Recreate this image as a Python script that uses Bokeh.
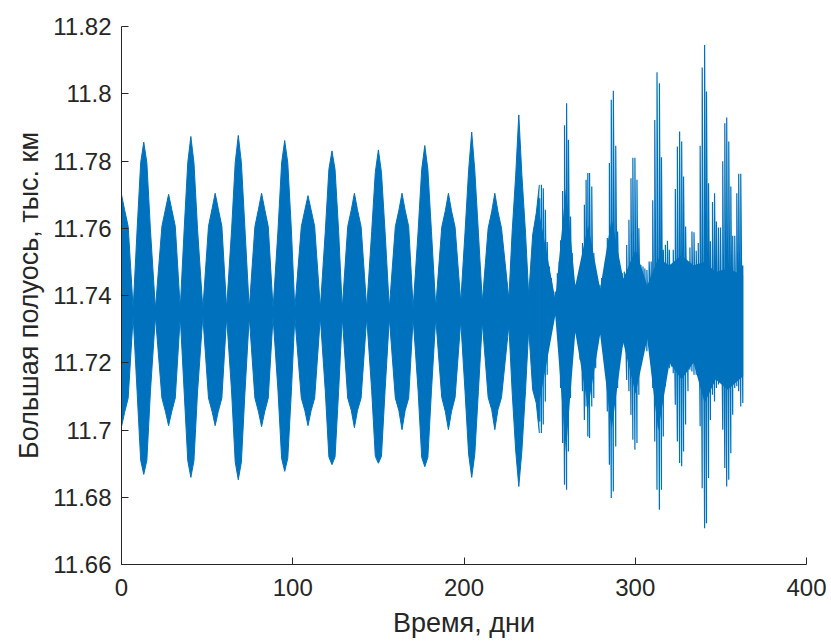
from bokeh.plotting import figure
from bokeh.models import FixedTicker, ColumnDataSource
from bokeh.embed import file_html
from bokeh.resources import INLINE

# ---- data (time in days, semi-major axis in thousand km) ----
# Dense part (0..244 days): beat lobes of the fast oscillation
lobe_t = [0.0, 13.0, 27.5, 40.5, 54.7, 68.2, 81.8, 95.3, 108.9, 122.9, 136.0,
          150.0, 163.8, 177.1, 190.9, 204.5, 218.0, 232.0, 244.0]
# extreme spikes of each lobe
tip_hi = [11.7700, 11.7856, 11.7701, 11.7873, 11.7704, 11.7876, 11.7704, 11.7861,
          11.7697, 11.7830, 11.7704, 11.7833, 11.7704, 11.7846, 11.7704, 11.7886,
          11.7704, 11.7937, 11.7729]
tip_lo = [11.7010, 11.6868, 11.7013, 11.6859, 11.7013, 11.6852, 11.7010, 11.6877,
          11.7013, 11.6897, 11.7007, 11.6901, 11.7001, 11.6891, 11.7001, 11.6859,
          11.7001, 11.6832, 11.6991]
# solid core of each lobe, 1.8 days from the lobe centre
core_dt = 1.8
core_hi = [11.7655, 11.7795, 11.7657, 11.7795, 11.7658, 11.7795, 11.7657, 11.7794,
           11.7655, 11.7775, 11.7655, 11.7766, 11.7654, 11.7775, 11.7652, 11.7772,
           11.7650, 11.7758, 11.7645]
core_lo = [11.7052, 11.6910, 11.7054, 11.6909, 11.7055, 11.6905, 11.7054, 11.6916,
           11.7057, 11.6920, 11.7058, 11.6922, 11.7057, 11.6919, 11.7055, 11.6928,
           11.7060, 11.6938, 11.7080]
# envelope 3.9 days from the lobe centre
mid_dt = 3.9
mid_hi = [11.7605, 11.7595, 11.7606, 11.7597, 11.7606, 11.7597, 11.7605, 11.7595,
          11.7605, 11.7590, 11.7605, 11.7590, 11.7605, 11.7590, 11.7603, 11.7588,
          11.7600, 11.7588, 11.7580]
mid_lo = [11.7095, 11.7115, 11.7095, 11.7113, 11.7095, 11.7113, 11.7095, 11.7115,
          11.7095, 11.7117, 11.7095, 11.7117, 11.7095, 11.7117, 11.7097, 11.7115,
          11.7097, 11.7115, 11.7120]
# narrow waists between the lobes
waist_t = [6.8, 19.8, 34.3, 47.5, 61.4, 74.6, 88.5, 101.2, 116.1, 128.9, 143.2,
           156.4, 170.3, 183.5, 198.1, 210.7, 226.2, 237.8]
waist_hi = [11.7360, 11.7360, 11.7361, 11.7360, 11.7362, 11.7360, 11.7361, 11.7360,
            11.7362, 11.7361, 11.7362, 11.7362, 11.7363, 11.7365, 11.7380, 11.7380,
            11.7390, 11.7400]
waist_lo = [11.7338, 11.7338, 11.7337, 11.7338, 11.7336, 11.7337, 11.7337, 11.7336,
            11.7335, 11.7336, 11.7335, 11.7334, 11.7334, 11.7333, 11.7325, 11.7322,
            11.7312, 11.7302]

# Sparse part (244..363 days): solid core and individual strokes (max / min)
late_core_t = [244.0, 253.3, 259.5, 265.0, 272.5, 279.5, 286.2, 293.0, 300.2,
               307.0, 313.4, 320.0, 327.0, 334.0, 340.5, 347.0, 354.0, 363.0]
late_core_hi = [11.7645, 11.7390, 11.7720, 11.7430, 11.7610, 11.7420, 11.7630,
                11.7450, 11.7537, 11.7430, 11.7510, 11.7490, 11.7520, 11.7490,
                11.7500, 11.7470, 11.7480, 11.7460]
late_core_lo = [11.7080, 11.7340, 11.6936, 11.7290, 11.7065, 11.7284, 11.7000,
                11.7260, 11.7106, 11.7270, 11.6996, 11.7200, 11.7150, 11.7200,
                11.7080, 11.7150, 11.7120, 11.7160]

late_t = [244.2, 245.2, 246.3, 247.5, 248.6, 249.8, 251.0, 252.1, 253.3, 254.5,
          255.6, 256.4, 257.6, 258.7, 259.9, 261.0, 262.2, 263.2, 264.3, 265.3,
          266.5, 267.8, 269.2, 270.3, 271.3, 272.3, 273.3, 274.6, 275.8, 276.9,
          278.1, 279.3, 280.4, 281.6, 282.6, 283.7, 284.9, 286.0, 287.2, 288.6,
          289.7, 291.1, 292.4, 293.6, 295.0, 296.3, 297.5, 298.6, 299.8, 301.0,
          302.1, 303.3, 304.5, 305.6, 306.8,
          308.1, 309.3, 310.2, 311.4, 312.7, 314.1, 315.3, 316.4, 317.6, 318.8,
          319.9, 321.1, 322.2, 323.4, 324.6, 325.9, 327.1, 328.2, 329.4, 330.8,
          331.9, 333.1, 334.3, 335.6, 336.8, 337.9, 339.1, 340.5, 341.6, 342.8,
          343.9, 345.1, 346.3, 347.4, 348.6, 349.8, 351.1, 352.3, 353.4, 354.6,
          355.8, 356.9, 358.1, 359.3, 360.4, 361.6, 362.8]
late_hi = [11.7689, 11.7729, 11.7719, 11.7655, 11.7559, 11.7486, 11.7452, 11.7392,
           11.7412, 11.7466, 11.7501, 11.7564, 11.7711, 11.7906, 11.7972, 11.7863,
           11.7635, 11.7526, 11.7437, 11.7432, 11.7417, 11.7476, 11.7556, 11.7670,
           11.7744, 11.7764, 11.7764, 11.7724, 11.7526, 11.7452, 11.7422, 11.7432,
           11.7452, 11.7452, 11.7501, 11.7571, 11.7794, 11.7982, 11.8009, 11.7845,
           11.7590, 11.7471, 11.7466, 11.7471, 11.7550, 11.7625, 11.7749, 11.7810,
           11.7810, 11.7744, 11.7600, 11.7491, 11.7486, 11.7480, 11.7476,
           11.7501, 11.7501, 11.7683, 11.7922, 11.8064, 11.8031, 11.7811, 11.7536,
           11.7551, 11.7563, 11.7536, 11.7491, 11.7536, 11.7717, 11.7843, 11.7888,
           11.7858, 11.7754, 11.7605, 11.7486, 11.7543, 11.7590, 11.7588, 11.7533,
           11.7556, 11.7845, 11.8078, 11.8145, 11.8007, 11.7734, 11.7561, 11.7678,
           11.7704, 11.7620, 11.7602, 11.7602, 11.7799, 11.7912, 11.7929, 11.7858,
           11.7724, 11.7578, 11.7578, 11.7704, 11.7762, 11.7762, 11.7489]
late_lo = [11.7025, 11.6991, 11.7016, 11.7085, 11.7164, 11.7258, 11.7313, 11.7348,
           11.7392, 11.7313, 11.7263, 11.7125, 11.6961, 11.6837, 11.6822, 11.6936,
           11.7095, 11.7248, 11.7288, 11.7318, 11.7293, 11.7209, 11.7115, 11.7030,
           11.7070, 11.6981, 11.6976, 11.7070, 11.7095, 11.7184, 11.7258, 11.7288,
           11.7313, 11.7258, 11.7204, 11.7055, 11.6897, 11.6798, 11.6817, 11.6951,
           11.7125, 11.7229, 11.7248, 11.7253, 11.7149, 11.7115, 11.7045, 11.6971,
           11.6941, 11.6961, 11.7105, 11.7194, 11.7234, 11.7263, 11.7234,
           11.7253, 11.7353, 11.7125, 11.6966, 11.6822, 11.6763, 11.6822, 11.6981,
           11.7130, 11.7174, 11.7184, 11.7189, 11.7169, 11.7075, 11.6966, 11.6902,
           11.6892, 11.6936, 11.7016, 11.7115, 11.7179, 11.7174, 11.7164, 11.7164,
           11.7179, 11.7011, 11.6827, 11.6708, 11.6723, 11.6857, 11.7030, 11.7105,
           11.7085, 11.7125, 11.7135, 11.7140, 11.7001, 11.6887, 11.6832, 11.6852,
           11.6931, 11.7045, 11.7125, 11.7130, 11.7115, 11.7070, 11.7080]

x_ticks = [0, 100, 200, 300, 400]
x_tick_labels = ["0", "100", "200", "300", "400"]
y_ticks = [11.66, 11.68, 11.7, 11.72, 11.74, 11.76, 11.78, 11.8, 11.82]
y_tick_labels = ["11.66", "11.68", "11.7", "11.72", "11.74", "11.76", "11.78", "11.8", "11.82"]

x_label = "Время, дни"
y_label = "Большая полуось, тыс. км"

# ---- build plotting sources ----
t_first, t_last = lobe_t[0], lobe_t[-1]
nodes = []
for i, t in enumerate(lobe_t):
    for dt, h, l in ((-mid_dt, mid_hi[i], mid_lo[i]), (-core_dt, core_hi[i], core_lo[i]),
                     (0.0, tip_hi[i], tip_lo[i]),
                     (core_dt, core_hi[i], core_lo[i]), (mid_dt, mid_hi[i], mid_lo[i])):
        if t_first <= t + dt <= t_last:
            nodes.append((t + dt, h, l))
nodes += list(zip(waist_t, waist_hi, waist_lo))
nodes.sort()
band = ColumnDataSource(dict(t=[n[0] for n in nodes],
                             hi=[n[1] for n in nodes],
                             lo=[n[2] for n in nodes]))
late_band = ColumnDataSource(dict(t=late_core_t, hi=late_core_hi, lo=late_core_lo))
zx, zy = [], []
for t, h, l in zip(late_t, late_hi, late_lo):
    zx += [t, t]
    zy += [l, h]
zig = ColumnDataSource(dict(t=zx, v=zy))

BLUE = "#0072BD"
DARK = "#262626"
FONT = "Liberation Sans"

p = figure(frame_width=685, frame_height=538,
           x_range=(0, 400), y_range=(11.66, 11.82),
           output_backend="svg", toolbar_location=None,
           min_border_left=121, min_border_right=25,
           min_border_top=26, min_border_bottom=78)
p.outline_line_color = None
p.grid.visible = False
p.background_fill_color = "white"
p.border_fill_color = "white"

p.varea(x="t", y1="lo", y2="hi", source=band, fill_color=BLUE, fill_alpha=1.0)
p.line(x="t", y="hi", source=band, line_color=BLUE, line_width=1)
p.line(x="t", y="lo", source=band, line_color=BLUE, line_width=1)
p.varea(x="t", y1="lo", y2="hi", source=late_band, fill_color=BLUE, fill_alpha=1.0)
p.line(x="t", y="v", source=zig, line_color=BLUE, line_width=1.2)

p.xaxis.ticker = FixedTicker(ticks=x_ticks)
p.xaxis.major_label_overrides = {k: v for k, v in zip(x_ticks, x_tick_labels)}
p.yaxis.ticker = FixedTicker(ticks=y_ticks)
p.yaxis.major_label_overrides = {k: v for k, v in zip(y_ticks, y_tick_labels)}

for ax in (p.xaxis[0], p.yaxis[0]):
    ax.axis_line_color = DARK
    ax.axis_line_width = 1
    ax.major_tick_line_color = DARK
    ax.major_tick_in = 7
    ax.major_tick_out = 0
    ax.minor_tick_line_color = None
    ax.major_label_text_font = FONT
    ax.major_label_text_font_size = "24px"
    ax.major_label_text_color = DARK
    ax.axis_label_text_font = FONT
    ax.axis_label_text_font_size = "27px"
    ax.axis_label_text_font_style = "normal"
    ax.axis_label_text_color = DARK

p.xaxis.axis_label = x_label
p.yaxis.axis_label = y_label
p.xaxis.major_label_standoff = 14
p.yaxis.major_label_standoff = 10
p.xaxis.axis_label_standoff = 9
p.yaxis.axis_label_standoff = 6

open("out.html", "w").write(file_html(p, INLINE))
